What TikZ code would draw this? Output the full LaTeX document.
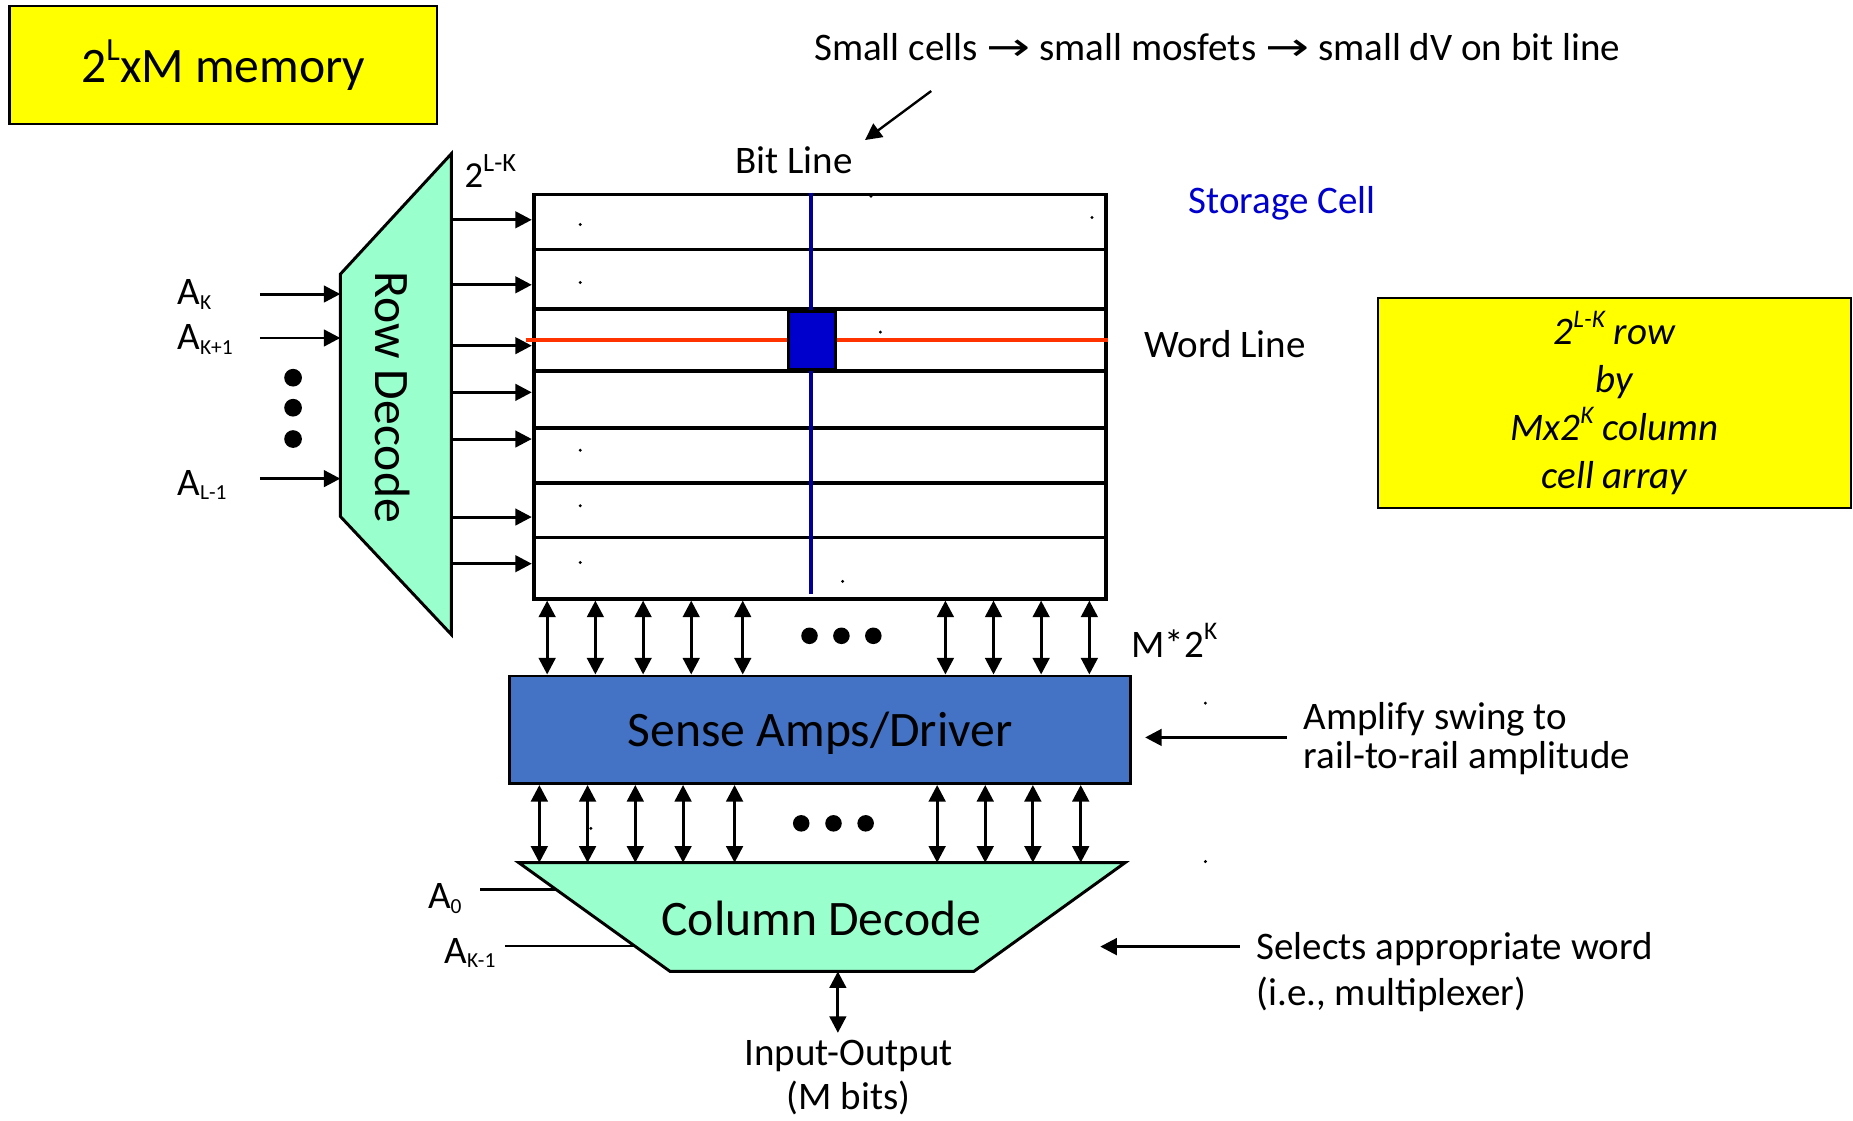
\documentclass[tikz,border=0pt]{standalone}
\usepackage{fontspec}
\setmainfont{Carlito}
\newfontfamily\arrowfont{DejaVu Sans}
\usetikzlibrary{arrows.meta, calc}

\definecolor{decgreen}{HTML}{99FFCC}
\definecolor{ampblue}{HTML}{4472C4}
\definecolor{cellblue}{HTML}{0000CC}
\definecolor{bitblue}{HTML}{000099}
\definecolor{wordred}{HTML}{FF3300}
\definecolor{noteyellow}{HTML}{FFFF00}

\newcommand{\upscript}[1]{\raisebox{0.45em}{\scalebox{0.65}{#1}}}
\newcommand{\downscript}[1]{\raisebox{-0.12em}{\scalebox{0.55}{#1}}}
\newcommand{\ra}{{\arrowfont\scalebox{1.35}[1]{\char"2192}}}

\tikzset{
  sig/.style={line width=2.5pt, -{Triangle[length=14pt,width=14pt]}},
  bidi/.style={line width=2.5pt, {Triangle[length=14pt,width=14pt]}-{Triangle[length=14pt,width=14pt]}},
  bigtext/.style={font=\fontsize{42}{48}\selectfont},
  midtext/.style={font=\fontsize{33}{39.6}\selectfont},
  speck/.style={radius=1.4pt}
}

\begin{document}
\begin{tikzpicture}[x=1pt, y=-1pt]

    % --- 1. FRAME ---
    \useasboundingbox (0,0) rectangle (1568,948);

    % --- 2. YELLOW BOXES ---
    \node[draw, line width=2pt, fill=noteyellow, minimum width=362pt, minimum height=100pt, bigtext] (title) at (189,55) {2\upscript{L}xM memory};
    \node[draw, line width=1.5pt, fill=noteyellow, minimum width=400pt, minimum height=178pt, align=center,
          font=\fontsize{33}{40.5}\selectfont\itshape] (dims) at (1366,341) {2\upscript{L-K} row\\by\\Mx2\upscript{K} column\\cell array};

    % --- 3. ROW DECODE ---
    \coordinate (rdNE) at (382,130);
    \coordinate (rdSE) at (382,537);
    \coordinate (rdSW) at (288,437);
    \coordinate (rdNW) at (288,232);
    \draw[line width=2.5pt, fill=decgreen] (rdNE) -- (rdSE) -- (rdSW) -- (rdNW) -- cycle;
    \node[bigtext, rotate=-90] (rowdec) at (332,336) {Row Decode};

    % address inputs
    \node[midtext, anchor=base west, inner sep=0] (ak) at (150,258) {A\downscript{K}};
    \node[midtext, anchor=base west, inner sep=0] (ak1) at (150,296) {A\downscript{K+1}};
    \node[midtext, anchor=base west, inner sep=0] (al1) at (150,419) {A\downscript{L-1}};
    \foreach \y [count=\i] in {248.8,286,405} {
        \coordinate (in\i) at (220,\y);
        \draw[sig] (in\i) -- (rdNW |- in\i);
    }
    \foreach \y in {319.6,345,371.5}
        \fill (248,\y) circle[radius=7.5pt];

    \node[font=\fontsize{31}{36}\selectfont, anchor=base west, inner sep=0] (rows) at (393,159) {2\raisebox{0.45em}{\scalebox{0.72}{L-K}}};

    % --- 4. CELL ARRAY ---
    \node[draw, line width=3.2pt, minimum width=484pt, minimum height=342pt, anchor=north west, inner sep=0] (cells) at (450,163) {};
    \foreach \y in {211,261.6,314,362,408.6,455} {
        \coordinate (r) at (0,\y);
        \draw[line width=3pt] (cells.west |- r) -- (cells.east |- r);
    }
    \coordinate (wordL) at (445,288);
    \draw[wordred, line width=3.5pt] (wordL) -- (cells.east |- wordL);
    \coordinate (bitT) at (686,163);
    \coordinate (bitB) at (686,503);
    \draw[bitblue, line width=3.5pt] (bitT) -- (bitB);
    \node[draw, line width=2.5pt, fill=cellblue, minimum width=40pt, minimum height=49pt, inner sep=0] (cell) at (687,288) {};

    % word lines out of the decoder
    \foreach \y in {186,241,292.5,332,371.5,437.5,477} {
        \coordinate (r) at (0,\y);
        \draw[sig] (rdNE |- r) -- (cells.west |- r);
    }

    % stray specks
    \foreach \p in {(491,190),(737,166),(924,184),(491,239),(745,281),(491,381),(491,428),(491,476),(713,492),(500,701),(1020,595),(1020,729)}
        \fill \p circle[speck];

    % --- 5. LABELS ---
    \node[midtext] (smallcells) at (1030,40) {Small cells \ra{} small mosfets \ra{} small dV on bit line};
    \coordinate (noteFoot) at (788,77);
    \coordinate (bitTip) at (732,118.5);
    \draw[sig, line width=2pt] (noteFoot) -- (bitTip);
    \node[midtext] (bitline) at (672,136) {Bit Line};
    \node[midtext, text=cellblue] (storage) at (1085,172) {Storage Cell};
    \node[midtext, anchor=west] (wordline) at (965,291) {Word Line};

    % --- 6. SENSE AMPS ---
    \node[draw, line width=2.5pt, fill=ampblue, minimum width=526pt, minimum height=91pt, text depth=0pt, bigtext] (amps) at (694,617.5) {Sense Amps/Driver};
    \foreach \x in {463,503.8,544.2,584.9,628.5,800,840.7,881,921.8} {
        \coordinate (c) at (\x,0);
        \draw[bidi] (c |- cells.south) -- (c |- amps.north);
    }
    \foreach \x in {685,712,739}
        \fill (\x,538) circle[radius=7pt];
    \node[midtext, anchor=west] (m2k) at (954,542) {M*2\upscript{K}};

    \node[font=\fontsize{33}{33}\selectfont, align=left, anchor=west, inner xsep=14pt] (ampnote) at (1089,625) {Amplify swing to\\rail-to-rail amplitude};
    \coordinate (ampTip) at (969,624);
    \draw[sig] (ampnote.west |- ampTip) -- (ampTip);

    % --- 7. COLUMN DECODE ---
    \coordinate (cdNW) at (439,730);
    \coordinate (cdNE) at (952,730);
    \coordinate (cdSE) at (824,822);
    \coordinate (cdSW) at (567,822);
    \draw[line width=2.5pt, fill=decgreen] (cdNW) -- (cdNE) -- (cdSE) -- (cdSW) -- cycle;
    \node[bigtext] (coldec) at (695,777) {Column Decode};

    \foreach \x in {456.4,497.2,537.6,578,621.6,793,833.7,874,914.5} {
        \coordinate (c) at (\x,0);
        \draw[bidi] (c |- amps.south) -- (c |- cdNW);
    }
    \foreach \x in {678,705.3,732.5}
        \fill (\x,696.7) circle[radius=7pt];

    \node[midtext, anchor=base west, inner sep=0] (a0) at (362,769) {A\downscript{0}};
    \node[midtext, anchor=base west, inner sep=0] (ak0) at (376,815) {A\downscript{K-1}};
    \coordinate (a0in) at (406.5,752.5);
    \coordinate (a0end) at ($(cdNW)!0.245!(cdSW)$);
    \draw[line width=2.5pt] (a0in) -- (a0in -| a0end);
    \coordinate (ak0in) at (427.3,800.5);
    \coordinate (ak0end) at ($(cdNW)!0.766!(cdSW)$);
    \draw[line width=2.5pt] (ak0in) -- (ak0in -| ak0end);

    \node[font=\fontsize{33}{38.5}\selectfont, align=left, anchor=north west, inner xsep=14pt, inner ysep=0] (selnote) at (1049,789) {Selects appropriate word\\(i.e., multiplexer)};
    \coordinate (selTip) at (931,801);
    \draw[sig] (selnote.west |- selTip) -- (selTip);

    % --- 8. INPUT-OUTPUT ---
    \node[font=\fontsize{33}{36.5}\selectfont, align=center, anchor=north] (io) at (718,877) {Input-Output\\(M bits)};
    \coordinate (ioTop) at (709,822);
    \coordinate (ioBot) at (709,874);
    \draw[bidi] (ioTop) -- (ioBot);

\end{tikzpicture}
\end{document}
